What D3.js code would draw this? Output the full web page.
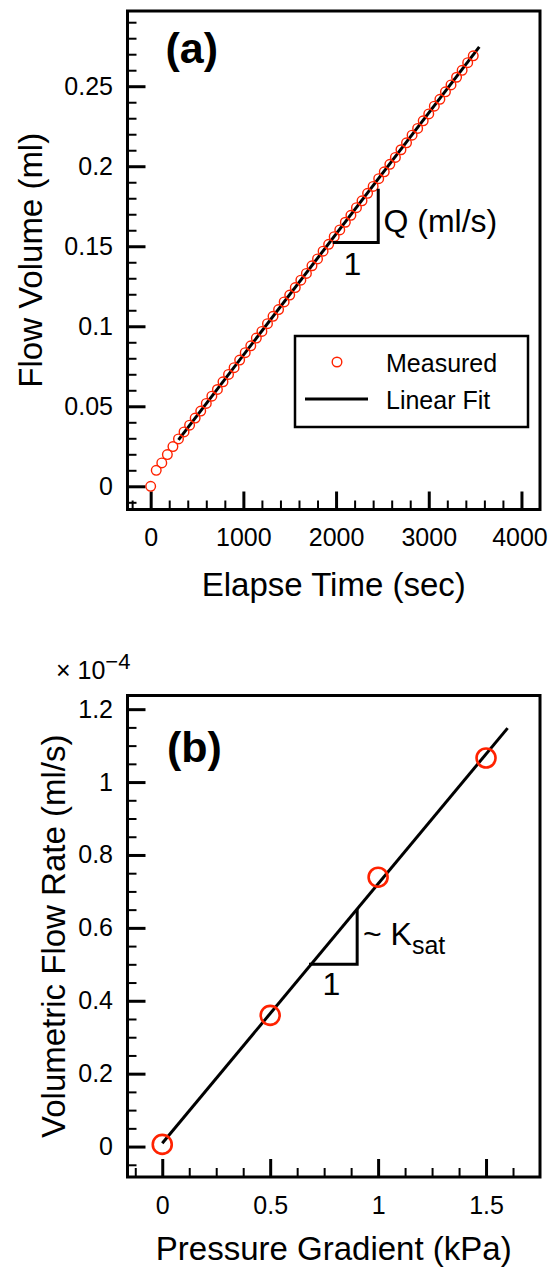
<!DOCTYPE html>
<html>
<head>
<meta charset="utf-8">
<script src="https://cdn.jsdelivr.net/npm/d3@7"></script>
<style>
  html, body { margin: 0; padding: 0; background: #fff; }
  svg { display: block; font-family: "Liberation Sans", Arial, Helvetica, sans-serif; }
</style>
</head>
<body>
<svg id="figura" width="548" height="1270"></svg>
<script>
// (a) volumen acumulado medido vs. tiempo
const TIEMPO_S = [
  0, 60, 120, 180, 240, 300, 360, 420, 480, 540, 600, 660, 720, 780, 840, 900,
  960, 1020, 1080, 1140, 1200, 1260, 1320, 1380, 1440, 1500, 1560, 1620, 1680,
  1740, 1800, 1860, 1920, 1980, 2040, 2100, 2160, 2220, 2280, 2340, 2400, 2460,
  2520, 2580, 2640, 2700, 2760, 2820, 2880, 2940, 3000, 3060, 3120, 3180, 3240,
  3300, 3360, 3420, 3480,
];
const VOLUMEN_ML = [
  0, 0.0100, 0.0146, 0.0198, 0.0248, 0.0296, 0.0340, 0.0382, 0.0426, 0.0470,
  0.0518, 0.0563, 0.0605, 0.0653, 0.0699, 0.0741, 0.0789, 0.0835, 0.0878,
  0.0926, 0.0968, 0.1016, 0.1062, 0.1104, 0.1152, 0.1195, 0.1242, 0.1288,
  0.1330, 0.1378, 0.1421, 0.1469, 0.1512, 0.1560, 0.1602, 0.1650, 0.1693,
  0.1741, 0.1784, 0.1831, 0.1874, 0.1922, 0.1965, 0.2012, 0.2055, 0.2103,
  0.2146, 0.2194, 0.2236, 0.2284, 0.2327, 0.2375, 0.2418, 0.2465, 0.2508,
  0.2556, 0.2599, 0.2647, 0.2690,
];
const AJUSTE_A_T = [300, 3545];
const AJUSTE_A_V = [0.029, 0.2746];
const TICKS_A_X = [0, 1000, 2000, 3000, 4000];
const TICKS_A_Y = [0, 0.05, 0.1, 0.15, 0.2, 0.25];

// (b) caudal volumétrico (x 1e-4 ml/s) vs. gradiente de presión
const GRADIENTE_KPA = [0, 0.5, 1, 1.5];
const CAUDAL_E4 = [0.006, 0.36, 0.739, 1.066];
const AJUSTE_B_X = [0, 1.6];
const AJUSTE_B_Y = [0.009, 1.148];
const TICKS_B_X = [0, 0.5, 1, 1.5];
const TICKS_B_Y = [0, 0.2, 0.4, 0.6, 0.8, 1, 1.2];

(function () {
  const ROJO = '#ff2200';
  const NEGRO = '#000';
  const svg = d3.select('#figura');

  /** Ejes con ticks hacia adentro: mayores con etiqueta, menores sin ella. */
  function dibujarEjes(g, x, y, cfg) {
    const ejeXmenor = d3.axisBottom(x).tickValues(cfg.menoresX).tickSize(-9).tickFormat('');
    const ejeXmayor = d3.axisBottom(x).tickValues(cfg.mayoresX).tickSize(-18)
      .tickPadding(19).tickFormat((d) => String(d));
    const ejeYmenor = d3.axisLeft(y).tickValues(cfg.menoresY).tickSize(-9).tickFormat('');
    const ejeYmayor = d3.axisLeft(y).tickValues(cfg.mayoresY).tickSize(-18)
      .tickPadding(14.5).tickFormat((d) => String(d));

    const abajo = cfg.abajo;
    const izq = cfg.izq;
    [[ejeXmenor, 2], [ejeXmayor, 3]].forEach(([eje, ancho]) => {
      g.append('g').attr('class', ancho === 3 ? 'eje-x-mayor' : 'eje-x-menor')
        .attr('transform', `translate(0,${abajo})`).call(eje)
        .call((s) => s.select('.domain').remove())
        .call((s) => s.selectAll('line').attr('stroke', NEGRO).attr('stroke-width', ancho));
    });
    [[ejeYmenor, 2], [ejeYmayor, 3]].forEach(([eje, ancho]) => {
      g.append('g').attr('transform', `translate(${izq},0)`).call(eje)
        .call((s) => s.select('.domain').remove())
        .call((s) => s.selectAll('line').attr('stroke', NEGRO).attr('stroke-width', ancho));
    });
    g.selectAll('.tick text')
      .attr('font-size', 25)
      .attr('fill', NEGRO)
      .attr('font-family', '"Liberation Sans", Arial, Helvetica, sans-serif');
  }

  function marco(g, x0, y0, x1, y1) {
    g.append('rect')
      .attr('x', x0).attr('y', y0)
      .attr('width', x1 - x0).attr('height', y1 - y0)
      .attr('fill', 'none').attr('stroke', NEGRO).attr('stroke-width', 3);
  }

  function menores(desde, hasta, paso) {
    const out = [];
    for (let v = desde; v <= hasta + paso / 2; v += paso) out.push(+v.toFixed(4));
    return out;
  }

  // ---------- Panel (a) ----------
  const A = { izq: 127.5, der: 540, arriba: 11, abajo: 509.5 };
  const xA = d3.scaleLinear().domain([-250, 4200]).range([A.izq, A.der]);
  const yA = d3.scaleLinear().domain([-0.0145, 0.297]).range([A.abajo, A.arriba]);
  const gA = svg.append('g');

  dibujarEjes(gA, xA, yA, {
    abajo: A.abajo, izq: A.izq,
    mayoresX: TICKS_A_X, menoresX: menores(-200, 4000, 200).filter((v) => v % 1000 !== 0),
    mayoresY: TICKS_A_Y, menoresY: menores(-0.01, 0.29, 0.01).filter((v) => Math.round(v * 100) % 5 !== 0),
  });
  // la etiqueta "4000" queda pegada al borde derecho de la figura
  gA.selectAll('.eje-x-mayor .tick text').filter((d) => d === 4000).attr('dx', -2);

  gA.append('path')
    .datum(AJUSTE_A_T.map((t, i) => [t, AJUSTE_A_V[i]]))
    .attr('d', d3.line().x((d) => xA(d[0])).y((d) => yA(d[1])))
    .attr('fill', 'none').attr('stroke', NEGRO).attr('stroke-width', 3);

  gA.selectAll('circle.medido')
    .data(TIEMPO_S.map((t, i) => [t, VOLUMEN_ML[i]]))
    .enter().append('circle')
    .attr('class', 'medido')
    .attr('cx', (d) => xA(d[0])).attr('cy', (d) => yA(d[1]))
    .attr('r', 4.8)
    .attr('fill', 'none').attr('stroke', ROJO).attr('stroke-width', 1.4);

  // triángulo de pendiente
  gA.append('path')
    .attr('d', d3.line()([
      [xA(1965), yA(0.1523)], [xA(2455), yA(0.1523)], [xA(2455), yA(0.186)],
    ]))
    .attr('fill', 'none').attr('stroke', NEGRO).attr('stroke-width', 3);
  gA.append('text').attr('x', 383.5).attr('y', 231.5).attr('font-size', 32).text('Q (ml/s)');
  gA.append('text').attr('x', 352.5).attr('y', 275).attr('font-size', 32)
    .attr('text-anchor', 'middle').text('1');

  marco(gA, A.izq, A.arriba, A.der, A.abajo);

  gA.append('text').attr('x', 165.5).attr('y', 63).attr('font-size', 43)
    .attr('font-weight', 'bold').text('(a)');

  // leyenda
  const ley = gA.append('g');
  ley.append('rect').attr('x', 295).attr('y', 336).attr('width', 233).attr('height', 91)
    .attr('fill', '#fff').attr('stroke', NEGRO).attr('stroke-width', 2.5);
  ley.append('circle').attr('cx', 337).attr('cy', 362).attr('r', 4.8)
    .attr('fill', 'none').attr('stroke', ROJO).attr('stroke-width', 1.4);
  ley.append('text').attr('x', 386).attr('y', 371.5).attr('font-size', 25).text('Measured');
  ley.append('line').attr('x1', 305).attr('x2', 368).attr('y1', 399).attr('y2', 399)
    .attr('stroke', NEGRO).attr('stroke-width', 3);
  ley.append('text').attr('x', 386).attr('y', 409).attr('font-size', 25).text('Linear Fit');

  gA.append('text').attr('x', (A.izq + A.der) / 2).attr('y', 596).attr('font-size', 33)
    .attr('text-anchor', 'middle').text('Elapse Time (sec)');
  gA.append('text')
    .attr('transform', `translate(42,${(A.arriba + A.abajo) / 2}) rotate(-90)`)
    .attr('font-size', 33).attr('text-anchor', 'middle').text('Flow Volume (ml)');

  // ---------- Panel (b) ----------
  const B = { izq: 127.5, der: 540, arriba: 695.5, abajo: 1177 };
  const xB = d3.scaleLinear().domain([-0.161, 1.75]).range([B.izq, B.der]);
  const yB = d3.scaleLinear().domain([-0.0835, 1.2375]).range([B.abajo, B.arriba]);
  const gB = svg.append('g');

  dibujarEjes(gB, xB, yB, {
    abajo: B.abajo, izq: B.izq,
    mayoresX: TICKS_B_X, menoresX: menores(-0.125, 1.625, 0.125).filter((v) => Math.round(v * 1000) % 500 !== 0),
    mayoresY: TICKS_B_Y, menoresY: menores(-0.05, 1.2, 0.05).filter((v) => Math.round(v * 100) % 20 !== 0),
  });

  gB.append('path')
    .datum(AJUSTE_B_X.map((x, i) => [x, AJUSTE_B_Y[i]]))
    .attr('d', d3.line().x((d) => xB(d[0])).y((d) => yB(d[1])))
    .attr('fill', 'none').attr('stroke', NEGRO).attr('stroke-width', 3);

  gB.selectAll('circle.medido')
    .data(GRADIENTE_KPA.map((x, i) => [x, CAUDAL_E4[i]]))
    .enter().append('circle')
    .attr('class', 'medido')
    .attr('cx', (d) => xB(d[0])).attr('cy', (d) => yB(d[1]))
    .attr('r', 9.5)
    .attr('fill', 'none').attr('stroke', ROJO).attr('stroke-width', 2.6);

  gB.append('path')
    .attr('d', d3.line()([
      [xB(0.68), yB(0.5)], [xB(0.903), yB(0.5)], [xB(0.903), yB(0.652)],
    ]))
    .attr('fill', 'none').attr('stroke', NEGRO).attr('stroke-width', 3);
  const ksat = gB.append('text').attr('x', 363).attr('y', 945).attr('font-size', 32);
  ksat.append('tspan').text('~ K');
  ksat.append('tspan').attr('font-size', 25).attr('dy', 9).text('sat');
  gB.append('text').attr('x', 331.5).attr('y', 995).attr('font-size', 32)
    .attr('text-anchor', 'middle').text('1');

  marco(gB, B.izq, B.arriba, B.der, B.abajo);

  gB.append('text').attr('x', 167).attr('y', 762).attr('font-size', 43)
    .attr('font-weight', 'bold').text('(b)');

  const exp = gB.append('text').attr('x', 56).attr('y', 679).attr('font-size', 25);
  exp.append('tspan').text('× 10');
  exp.append('tspan').attr('font-size', 22).attr('dy', -10).text('−4');

  gB.append('text').attr('x', (B.izq + B.der) / 2).attr('y', 1260).attr('font-size', 33)
    .attr('text-anchor', 'middle').text('Pressure Gradient (kPa)');
  gB.append('text')
    .attr('transform', `translate(65,${(B.arriba + B.abajo) / 2}) rotate(-90)`)
    .attr('font-size', 33).attr('text-anchor', 'middle').text('Volumetric Flow Rate (ml/s)');
})();
</script>
</body>
</html>
